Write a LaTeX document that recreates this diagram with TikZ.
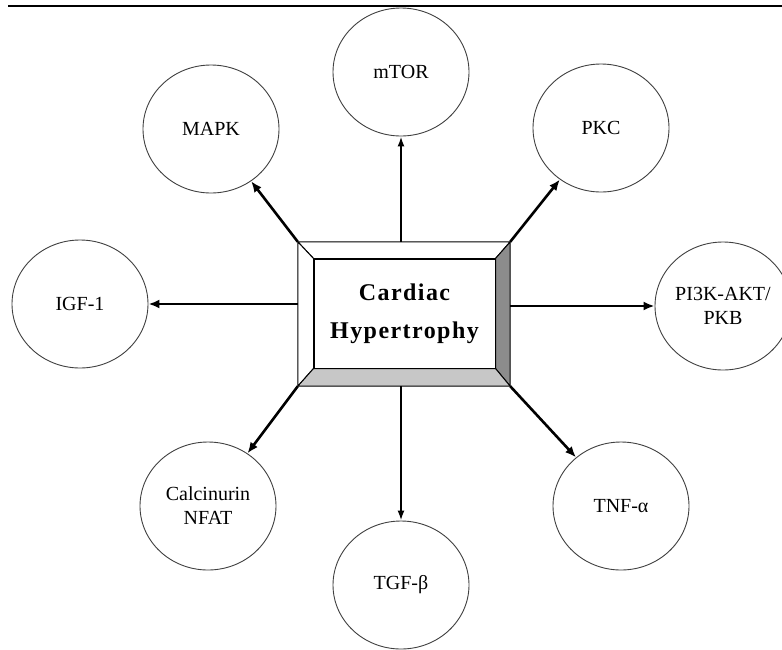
\documentclass[tikz,border=0pt]{standalone}
\usepackage{fontspec}
\setmainfont{Liberation Serif}
\newfontfamily\hubfont[LetterSpace=6]{Liberation Serif}
\usetikzlibrary{arrows.meta,shapes.geometric}
\tikzset{
  pathway/.style = {ellipse,draw=black!75,line width=0.9pt,minimum width=136pt,
                    minimum height=128pt,inner sep=0pt,align=center,
                    font=\fontsize{20}{24}\selectfont},
  outarr/.style  = {-{Latex[length=11pt,width=9pt]},line width=2.6pt},
  vertarr/.style = {-{Latex[length=10pt,width=7pt]},line width=1.8pt},
  bevel/.style   = {draw=black,line width=1pt,line join=miter}
}

\begin{document}
\begin{tikzpicture}[x=1pt,y=-1pt]
  \clip (0,0) rectangle (782,649);
  \fill[white] (0,0) rectangle (782,649);
  \coordinate (rulel) at (8,6);
  \coordinate (ruler) at (782,6);
  \draw[line width=2pt] (rulel) -- (ruler);

  % central box with its bevelled frame
  \node[minimum width=212pt,minimum height=144pt,inner sep=0pt] (hub) at (404,314) {};
  \node[draw,line width=1pt,fill=white,minimum width=181pt,minimum height=109pt,
        inner sep=0pt,align=center,font=\hubfont\fontsize{24}{38}\selectfont\bfseries]
        (core) at (404.5,313.5) {Cardiac\\Hypertrophy};
  \filldraw[bevel,fill=white]   (hub.north west) -- (hub.north east) -- (core.north east) -- (core.north west) -- cycle;
  \filldraw[bevel,fill=white]   (hub.north west) -- (core.north west) -- (core.south west) -- (hub.south west) -- cycle;
  \filldraw[bevel,fill=black!45] (hub.north east) -- (hub.south east) -- (core.south east) -- (core.north east) -- cycle;
  \filldraw[bevel,fill=black!22] (hub.south west) -- (hub.south east) -- (core.south east) -- (core.south west) -- cycle;

  \node[pathway] (mtor) at (401,72)  {mTOR};
  \node[pathway] (mapk) at (211,129) {MAPK};
  \node[pathway] (pkc)  at (601,128) {PKC};
  \node[pathway] (igf)  at (80,304)  {IGF-1};
  \node[pathway] (pik)  at (723,306) {PI3K-AKT/\\PKB};
  \node[pathway] (calc) at (208,506) {Calcinurin\\NFAT};
  \node[pathway] (tgf)  at (401,585) {TGF-β};
  \node[pathway] (tnf)  at (621,506) {TNF-α};

  \draw[vertarr] (hub.north -| mtor) -- (mtor);
  \draw[vertarr] (hub.south -| tgf) -- (tgf);
  \draw[outarr]  (hub.west |- igf) -- (igf);
  \draw[outarr]  (hub.east |- pik) -- (pik);
  \draw[outarr]  (hub.north west) -- (mapk);
  \draw[outarr]  (hub.north east) -- (pkc);
  \draw[outarr]  (hub.south west) -- (calc);
  \draw[outarr]  (hub.south east) -- (tnf);
\end{tikzpicture}
\end{document}
